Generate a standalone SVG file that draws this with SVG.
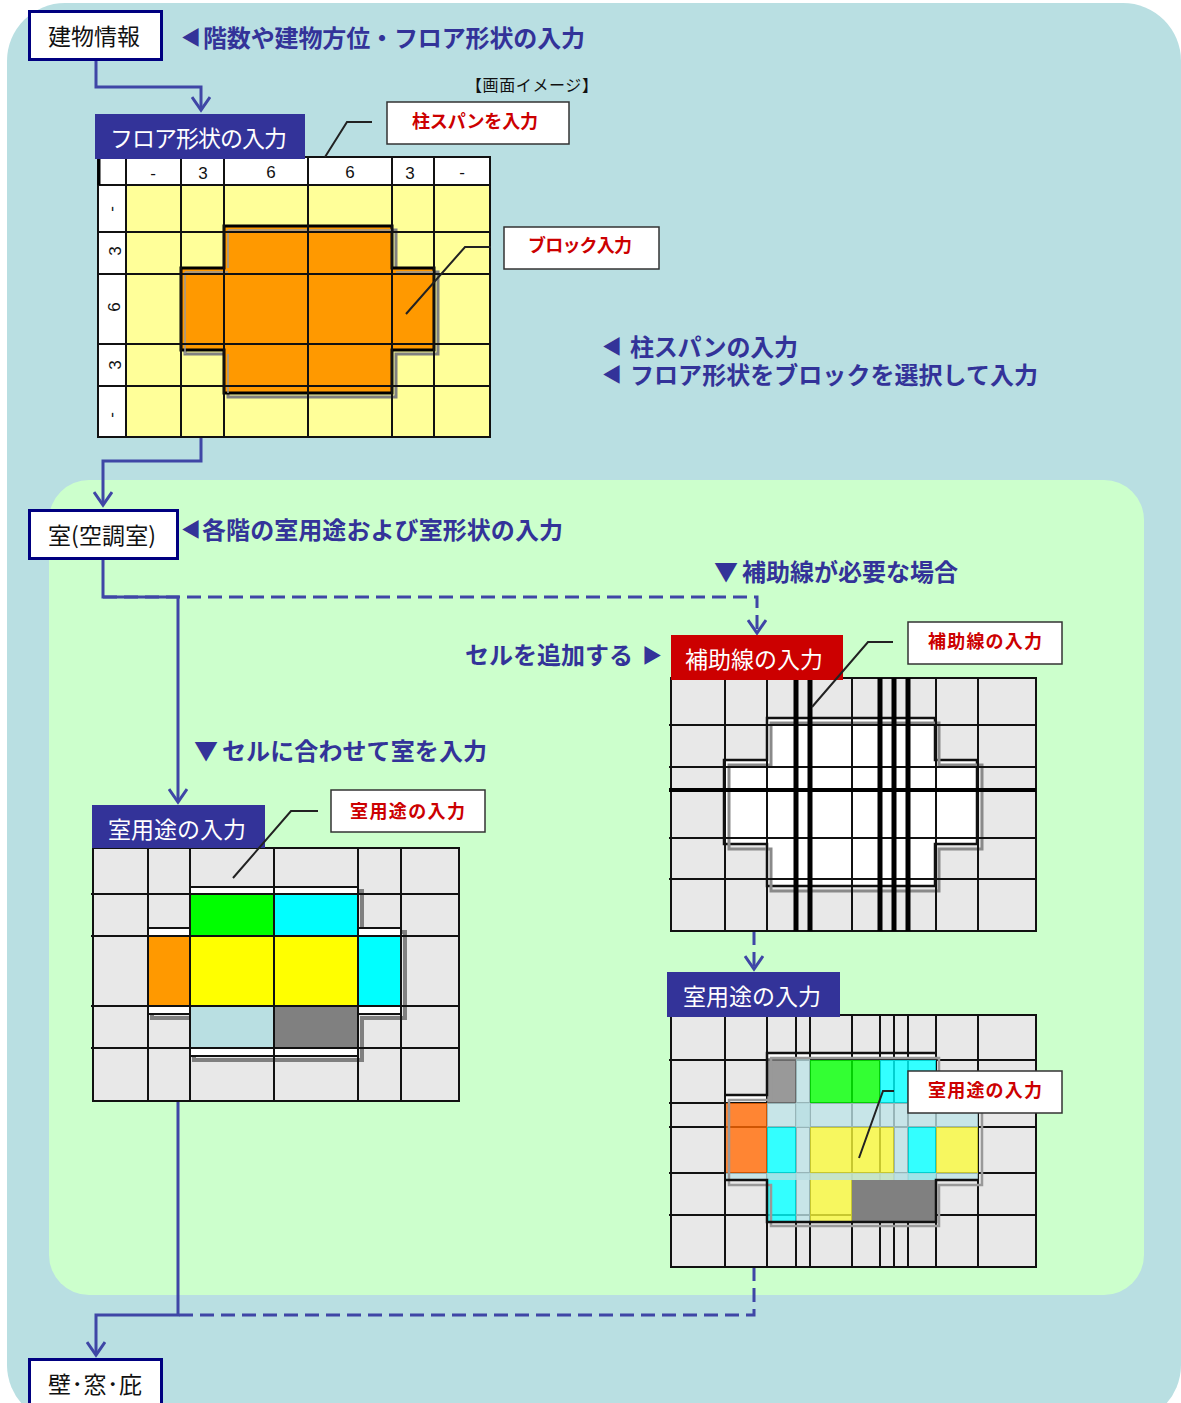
<svg xmlns="http://www.w3.org/2000/svg" width="1181" height="1403" viewBox="0 0 1181 1403">
<style>
text{font-family:"Noto Sans CJK JP","Noto Sans",sans-serif}
.h{font-size:24px;font-weight:700;fill:#333399}
.tri{font-size:20px;fill:#333399}
.n{font-size:23px;fill:#111}
.t{font-size:23px;fill:#fff}
.r{font-weight:700;fill:#cc0000;font-size:18px}
.d{font-family:"Liberation Sans",sans-serif;font-size:17px;fill:#111;text-anchor:middle}
.box{fill:#fff;stroke:#000080;stroke-width:3}
.lab{fill:#fff;stroke:#333;stroke-width:1.5}
.c{fill:none;stroke:#3f46a6;stroke-width:3}
.dash{stroke-dasharray:14 7}
.g{fill:none;stroke:#111;stroke-width:2}
.th{fill:none;stroke:#000;stroke-width:5}
.ld{fill:none;stroke:#222;stroke-width:2}
.o{fill-opacity:.8}
</style>
<defs>
<marker id="a" markerUnits="userSpaceOnUse" markerWidth="24" markerHeight="20" refX="19" refY="10" orient="auto"><path d="M6 1L19 10L6 19" fill="none" stroke="#3f46a6" stroke-width="3"/></marker>
</defs>
<rect width="1181" height="1403" fill="#fff"/>
<rect id="bg-outer" x="7" y="3" width="1174" height="1420" rx="58" fill="#b9dfe2"/>
<rect id="bg-inner" x="49" y="480" width="1095" height="815" rx="40" fill="#ccffcc"/>

<g id="connectors">
<path class="c" d="M96 60V87H201V110" marker-end="url(#a)"/>
<path class="c" d="M201 437V461H103V505" marker-end="url(#a)"/>
<path class="c" d="M103 558V597H178V802" marker-end="url(#a)"/>
<path class="c dash" d="M103 597H757V633" marker-end="url(#a)"/>
<path class="c dash" d="M754 931V969" marker-end="url(#a)"/>
<path class="c" d="M178 1101V1315H96V1355" marker-end="url(#a)"/>
<path class="c dash" d="M754 1267V1315H178"/>
</g>

<g id="node-building"><rect class="box" x="29.500" y="11.500" width="132" height="48"/><text class="n" x="48" y="45">建物情報</text></g>
<g id="note-1"><text class="tri" x="181" y="45">◀</text><text class="h" x="203" y="47" textLength="382">階数や建物方位・フロア形状の入力</text></g>
<text x="466" y="91" font-size="16" fill="#111" textLength="132">【画面イメージ】</text>

<g id="floor-grid">
<rect x="98" y="157" width="392" height="280" fill="#ffff99"/>
<rect x="98" y="157" width="392" height="28" fill="#fff"/>
<rect x="98" y="157" width="28" height="280" fill="#fff"/>
<path d="M228 230H396V272H438V354H396V397H228V354H185V272H228Z" fill="none" stroke="#808080" stroke-width="3"/>
<path d="M224 226H392V268H434V350H392V393H224V350H181V268H224Z" fill="#ff9900" stroke="#000" stroke-width="3"/>
<path d="M228 230H392M185 272H228M396 272H434M185 272V354M228 230V268M228 354V393" fill="none" stroke="#999" stroke-width="1.500"/>
<path class="g" d="M98 157H490V437H98ZM126 157V437M181 157V437M224 157V437M308 157V437M392 157V437M434 157V437M98 185H490M98 232H490M98 274H490M98 344H490M98 386H490"/>
<path d="M99 157V185" stroke="#000" stroke-width="3"/>
<text class="d" x="153" y="179">-</text><text class="d" x="203" y="179">3</text><text class="d" x="271" y="178">6</text><text class="d" x="350" y="178">6</text><text class="d" x="410" y="179">3</text><text class="d" x="462" y="178">-</text>
<text class="d" transform="translate(112 209) rotate(-90)" y="5">-</text>
<text class="d" transform="translate(116 251) rotate(-90)" y="5">3</text>
<text class="d" transform="translate(115 307) rotate(-90)" y="5">6</text>
<text class="d" transform="translate(116 365) rotate(-90)" y="5">3</text>
<text class="d" transform="translate(112 415) rotate(-90)" y="5">-</text>
</g>
<g id="title-floor"><rect x="95" y="114" width="210" height="45" fill="#333399"/><text class="t" x="110" y="147" textLength="177">フロア形状の入力</text></g>
<g id="label-span"><path class="ld" d="M372 122H347L325 157"/><rect class="lab" x="387" y="102" width="182" height="42"/><text class="r" x="412" y="128" textLength="126">柱スパンを入力</text></g>
<g id="label-block"><path class="ld" stroke-width="1.500" d="M491 247H465L406 314"/><rect class="lab" x="504" y="227" width="155" height="42"/><text class="r" x="528" y="252" font-size="17" textLength="104">ブロック入力</text></g>
<g id="note-2">
<text class="tri" x="602" y="354">◀</text><text class="h" x="630" y="356" textLength="168">柱スパンの入力</text>
<text class="tri" x="602" y="382">◀</text><text class="h" x="630" y="384" textLength="408">フロア形状をブロックを選択して入力</text>
</g>

<g id="node-room"><rect class="box" x="29.500" y="510.500" width="148" height="48"/><text class="n" x="48" y="544" textLength="108">室(空調室)</text></g>
<g id="note-3"><text class="tri" x="181" y="537">◀</text><text class="h" x="202" y="539" textLength="361">各階の室用途および室形状の入力</text></g>
<g id="note-4"><text class="h" x="714" y="581">▼</text><text class="h" x="742" y="581" textLength="216">補助線が必要な場合</text></g>
<g id="note-5"><text class="h" x="465" y="664" textLength="168">セルを追加する</text><text class="tri" x="642" y="663">▶</text></g>
<g id="note-6"><text class="h" x="194" y="760">▼</text><text class="h" x="222" y="760" textLength="265">セルに合わせて室を入力</text></g>

<g id="room-grid-left">
<rect x="93" y="848" width="366" height="253" fill="#e8e8e8"/>
<path d="M194 891H362V932H405V1018H362V1060H194V1018H152V932H194Z" fill="none" stroke="#808080" stroke-width="4"/>
<path d="M190 887H358V928H401V1014H358V1056H190V1014H148V928H190Z" fill="#fff" stroke="#111" stroke-width="2"/>
<rect x="190" y="894" width="84" height="42" fill="#00ff00"/>
<rect x="274" y="894" width="84" height="42" fill="#00ffff"/>
<rect x="148" y="936" width="42" height="70" fill="#ff9900"/>
<rect x="190" y="936" width="168" height="70" fill="#ffff00"/>
<rect x="358" y="936" width="43" height="70" fill="#00ffff"/>
<rect x="190" y="1006" width="84" height="42" fill="#b9dfe2"/>
<rect x="274" y="1006" width="84" height="42" fill="#808080"/>
<path class="g" d="M93 848H459V1101H93ZM148 848V1101M190 848V1101M274 848V1101M358 848V1101M401 848V1101M91 894H459M91 936H459M91 1006H459M91 1048H459"/>
</g>
<g id="title-room-left"><rect x="92" y="805" width="173" height="43" fill="#333399"/><text class="t" x="108" y="838" textLength="138">室用途の入力</text></g>
<g id="label-room-left"><path class="ld" d="M318 811H291L233 878"/><rect class="lab" x="331" y="790" width="154" height="42"/><text class="r" x="350" y="818" textLength="115">室用途の入力</text></g>

<g id="aux-grid">
<rect x="671" y="678" width="365" height="253" fill="#e8e8e8"/>
<path d="M767 718H935V760H977V844H935V886H767V844H724V760H767Z" fill="#fff" stroke="#111" stroke-width="2.500"/>
<path d="M771 723H939V765H982V849H939V891H771V849H729V765H771Z" fill="none" stroke="#8a8a8a" stroke-width="3"/>
<path class="g" d="M671 678H1036V931H671ZM725 678V931M767 678V931M852 678V931M936 678V931M978 678V931M669 725H1036M669 767H1036M669 838H1036M669 879H1036"/>
<path class="th" d="M796 678V931M810 678V931M880 678V931M894 678V931M908 678V931"/>
<path d="M669 790H1036" fill="none" stroke="#000" stroke-width="4"/>
</g>
<g id="title-aux"><rect x="671" y="635" width="172" height="45" fill="#cc0000"/><text class="t" x="685" y="668" textLength="138">補助線の入力</text></g>
<g id="label-aux"><path class="ld" d="M893 642H868L812 707"/><rect class="lab" x="908" y="622" width="154" height="42"/><text class="r" x="928" y="648" textLength="114">補助線の入力</text></g>

<g id="room-grid-right">
<rect x="671" y="1015" width="365" height="252" fill="#e8e8e8"/>
<rect x="767" y="1053" width="169" height="169" fill="#fff"/>
<rect x="726" y="1095" width="252" height="85" fill="#fff"/>
<path class="g" d="M671 1015H1036V1267H671ZM725 1015V1267M767 1015V1267M796 1015V1267M810 1015V1267M852 1015V1267M880 1015V1267M894 1015V1267M908 1015V1267M936 1015V1267M978 1015V1267M669 1060H1036M669 1103H1036M669 1127H1036M669 1173H1036M669 1215H1036"/>
<rect class="o" x="767" y="1058" width="29" height="45" fill="#808080"/>
<rect class="o" x="796" y="1058" width="14" height="164" fill="#b9dfe2"/>
<rect class="o" x="810" y="1060" width="70" height="43" fill="#00ff00"/>
<rect class="o" x="880" y="1060" width="56" height="43" fill="#00ffff"/>
<rect class="o" x="726" y="1103" width="41" height="70" fill="#ff6600"/>
<rect class="o" x="767" y="1103" width="211" height="24" fill="#b9dfe2"/>
<rect class="o" x="767" y="1127" width="29" height="95" fill="#00ffff"/>
<rect class="o" x="810" y="1127" width="84" height="53" fill="#f5f537"/>
<rect class="o" x="810" y="1180" width="42" height="42" fill="#f5f537"/>
<rect class="o" x="894" y="1127" width="14" height="53" fill="#b9dfe2"/>
<rect class="o" x="908" y="1127" width="28" height="53" fill="#00ffff"/>
<rect class="o" x="936" y="1127" width="42" height="46" fill="#f5f537"/>
<rect class="o" x="726" y="1173" width="252" height="7" fill="#b9dfe2"/>
<rect x="852" y="1180" width="84" height="42" fill="#808080"/>
<path d="M771 1058H939V1100H982V1185H939V1226H771V1185H729V1100H771Z" fill="none" stroke="#999" stroke-width="2.500"/>
<path d="M725 1095H767V1053H936M725 1180H767V1222H936V1180H978" fill="none" stroke="#111" stroke-width="2.500"/>
</g>
<g id="title-room-right"><rect x="667" y="972" width="173" height="45" fill="#333399"/><text class="t" x="683" y="1005" textLength="138">室用途の入力</text></g>
<g id="label-room-right"><rect class="lab" x="908" y="1071" width="154" height="42"/><path class="ld" d="M894 1091H883L859 1158"/><text class="r" x="928" y="1097" textLength="114">室用途の入力</text></g>

<g id="node-wall"><rect class="box" x="29.500" y="1359.500" width="132" height="60"/><text class="n" x="48" y="1393" textLength="94">壁･窓･庇</text></g>
</svg>
